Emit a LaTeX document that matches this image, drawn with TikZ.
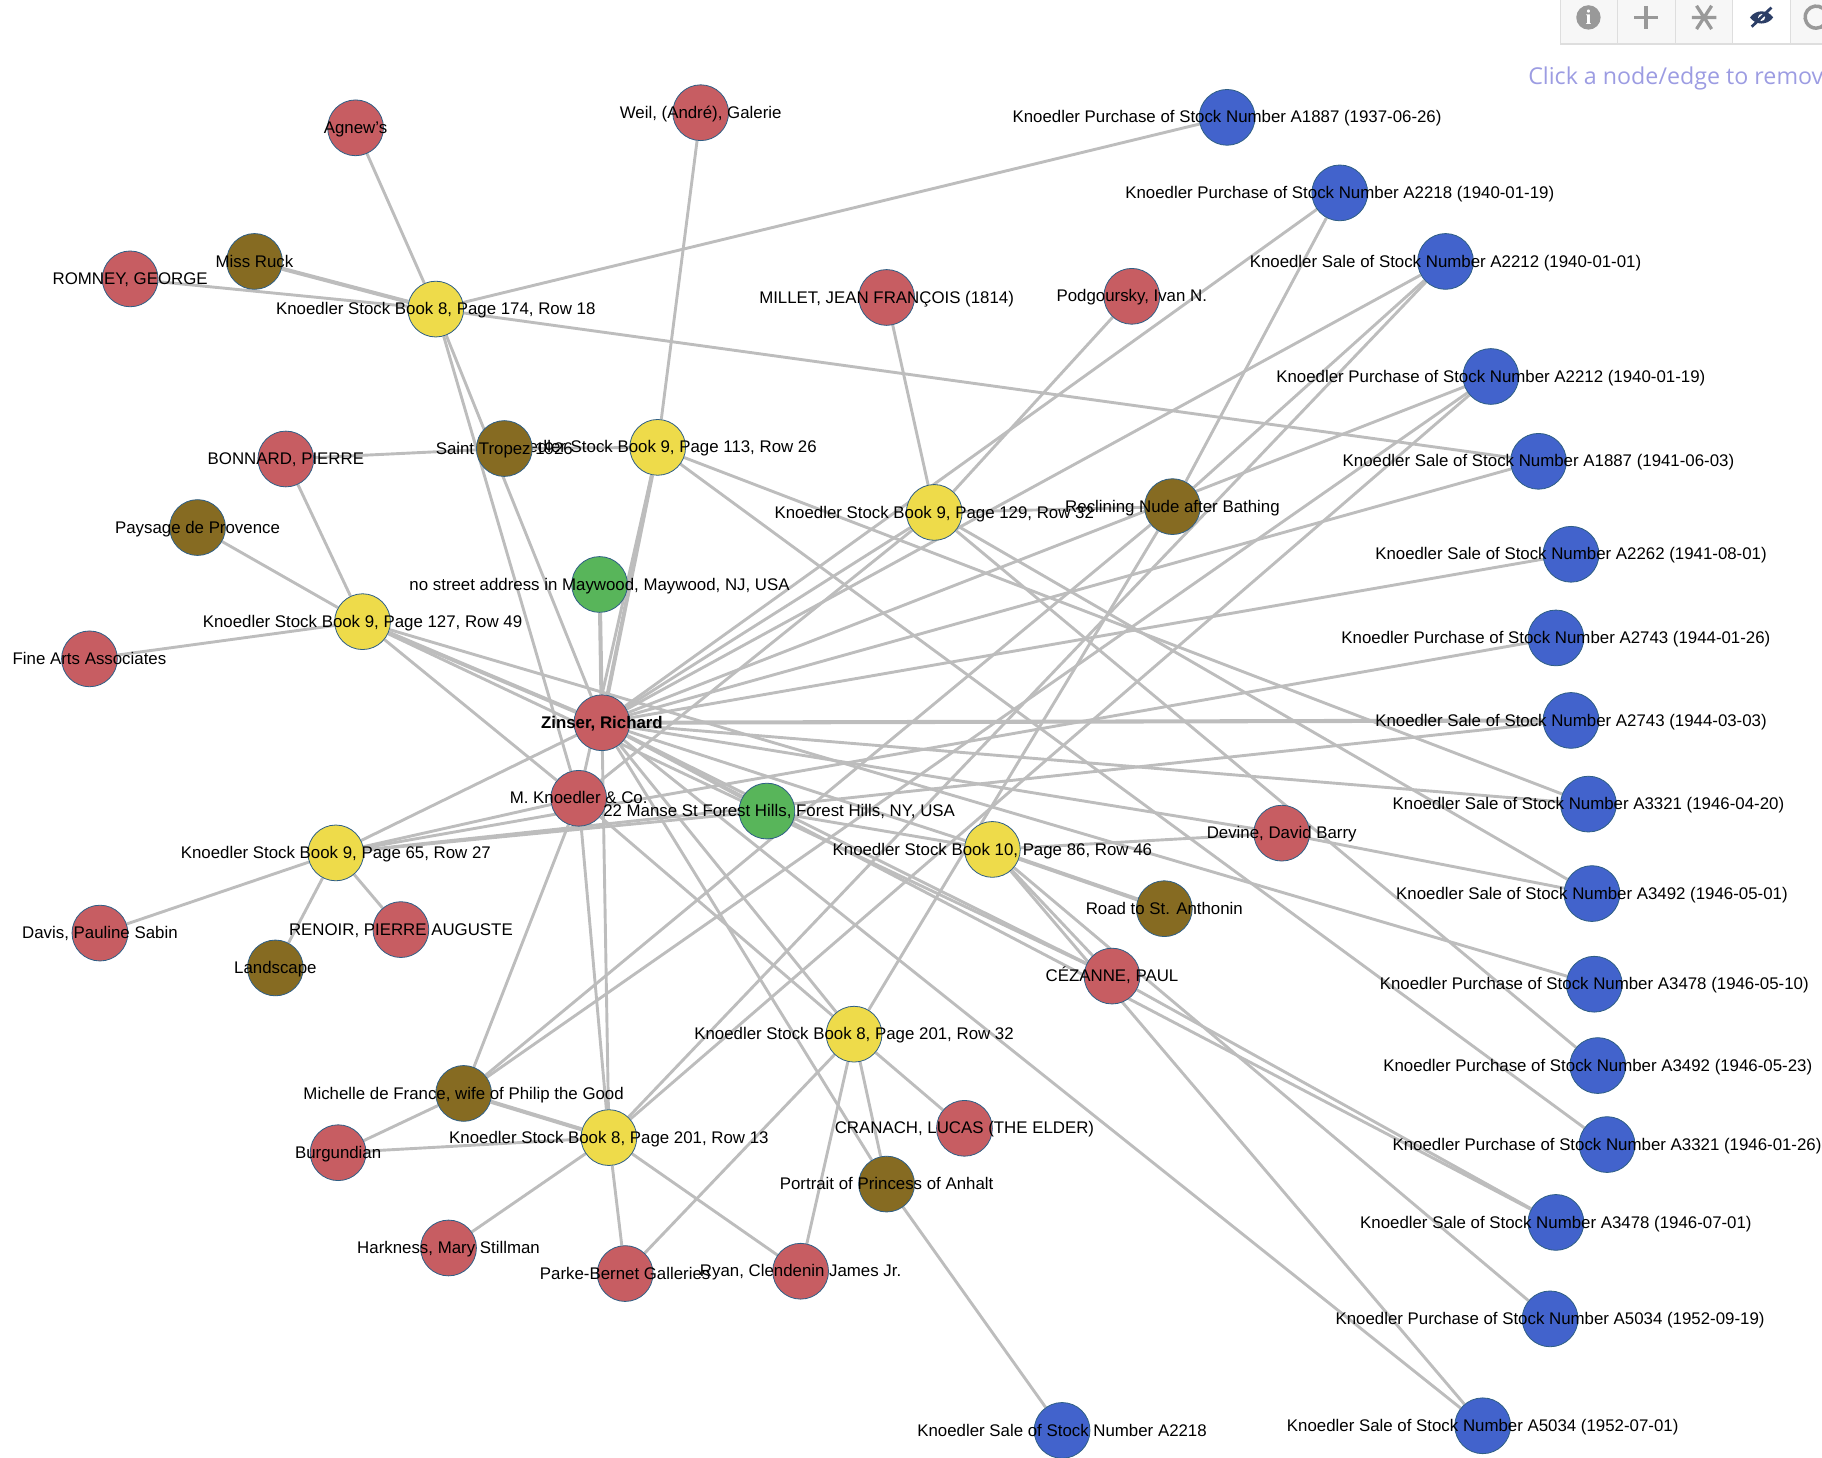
\documentclass[tikz,border=0pt]{standalone}
\usepackage{fontspec}
\setmainfont{Liberation Sans}
\newfontfamily\hintfont{Open Sans}
\newfontfamily\iconfont{Liberation Serif}
\usetikzlibrary{backgrounds}
\definecolor{edgegrey}{HTML}{BDBDBD}
\definecolor{rimblue}{HTML}{2F5F85}
\definecolor{personred}{HTML}{C75D62}
\definecolor{workbrown}{HTML}{866B22}
\definecolor{bookyellow}{HTML}{EEDB4A}
\definecolor{placegreen}{HTML}{58B55A}
\definecolor{salesblue}{HTML}{4263CC}
\definecolor{iconnavy}{HTML}{2C3E66}
\definecolor{hintblue}{HTML}{9C9CE2}
\tikzset{
  dot/.style={circle, draw=rimblue, line width=.7pt, minimum size=48pt, inner sep=0pt},
  lbl/.style={text=black, font=\fontsize{14.5}{16}\selectfont, inner sep=0pt, text height=10pt, text depth=3pt, yshift=-1.3pt},
  person/.style={dot, fill=personred, label={[lbl]center:#1}},
  work/.style={dot, fill=workbrown, label={[lbl]center:#1}},
  book/.style={dot, fill=bookyellow, label={[lbl]center:#1}},
  place/.style={dot, fill=placegreen, label={[lbl]center:#1}},
  sale/.style={dot, fill=salesblue, label={[lbl]center:#1}},
  edge/.style={draw=edgegrey, line width=2.5pt},
  heavy/.style={draw=edgegrey, line width=3.5pt},
  cell/.style={draw=black!13, line width=1.3pt, fill=black!3},
  icon/.style={draw=black!40, line width=2.8pt},
}
\begin{document}
\begin{tikzpicture}[x=1pt, y=-1pt]
\useasboundingbox (0,0) rectangle (1568,1254.7);
% stock books
\node[book={Knoedler Stock Book 8, Page 174, Row 18}] (bk0) at (375,266){};
\node[book={Knoedler Stock Book 9, Page 113, Row 26}] (bk1) at (566,385){};
\node[book={Knoedler Stock Book 9, Page 129, Row 32}] (bk2) at (804,441){};
\node[book={Knoedler Stock Book 9, Page 127, Row 49}] (bk3) at (312,535){};
\node[book={Knoedler Stock Book 9, Page 65, Row 27}] (bk4) at (289,734){};
\node[book={Knoedler Stock Book 10, Page 86, Row 46}] (bk5) at (854,731){};
\node[book={Knoedler Stock Book 8, Page 201, Row 32}] (bk6) at (735,890){};
\node[book={Knoedler Stock Book 8, Page 201, Row 13}] (bk7) at (524,979){};
% people
\node[person={Agnew's}] (pn0) at (306,110){};
\node[person={Weil, (André), Galerie}] (pn1) at (603,97){};
\node[person={ROMNEY, GEORGE}] (pn2) at (112,240){};
\node[person={MILLET, JEAN FRANÇOIS (1814)}] (pn3) at (763,256){};
\node[person={Podgoursky, Ivan N.}] (pn4) at (974,255){};
\node[person={BONNARD, PIERRE}] (pn5) at (246,395){};
\node[person={Fine Arts Associates}] (pn6) at (77,567){};
\node[person={\bfseries Zinser, Richard}] (pn7) at (518,622){};
\node[person={M. Knoedler \& Co.}] (pn8) at (498,687){};
\node[person={Devine, David Barry}] (pn9) at (1103,717){};
\node[person={Davis, Pauline Sabin}] (pn10) at (86,803){};
\node[person={RENOIR, PIERRE AUGUSTE}] (pn11) at (345,800){};
\node[person={CÉZANNE, PAUL}] (pn12) at (957,840){};
\node[person={CRANACH, LUCAS (THE ELDER)}] (pn13) at (830,971){};
\node[person={Burgundian}] (pn14) at (291,992){};
\node[person={Harkness, Mary Stillman}] (pn15) at (386,1074){};
\node[person={Parke-Bernet Galleries}] (pn16) at (538,1096){};
\node[person={Ryan, Clendenin James Jr.}] (pn17) at (689,1094){};
% works
\node[work={Miss Ruck}] (wk0) at (219,225){};
\node[work={Saint Tropez 1926}] (wk1) at (434,386){};
\node[work={Paysage de Provence}] (wk2) at (170,454){};
\node[work={Reclining Nude after Bathing}] (wk3) at (1009,436){};
\node[work={Road to St. Anthonin}] (wk4) at (1002,782){};
\node[work={Landscape}] (wk5) at (237,833){};
\node[work={Michelle de France, wife of Philip the Good}] (wk6) at (399,941){};
\node[work={Portrait of Princess of Anhalt}] (wk7) at (763,1019){};
% places
\node[place={no street address in Maywood, Maywood, NJ, USA}] (pl0) at (516,503){};
\node[dot, fill=placegreen, label={[lbl, xshift=10.5pt]center:22 Manse St Forest Hills, Forest Hills, NY, USA}] (pl1) at (660,698){};
% purchases and sales
\node[sale={Knoedler Purchase of Stock Number A1887 (1937-06-26)}] (tx0) at (1056,101){};
\node[sale={Knoedler Purchase of Stock Number A2218 (1940-01-19)}] (tx1) at (1153,166){};
\node[sale={Knoedler Sale of Stock Number A2212 (1940-01-01)}] (tx2) at (1244,225){};
\node[sale={Knoedler Purchase of Stock Number A2212 (1940-01-19)}] (tx3) at (1283,324){};
\node[sale={Knoedler Sale of Stock Number A1887 (1941-06-03)}] (tx4) at (1324,397){};
\node[sale={Knoedler Sale of Stock Number A2262 (1941-08-01)}] (tx5) at (1352,477){};
\node[sale={Knoedler Purchase of Stock Number A2743 (1944-01-26)}] (tx6) at (1339,549){};
\node[sale={Knoedler Sale of Stock Number A2743 (1944-03-03)}] (tx7) at (1352,620){};
\node[sale={Knoedler Sale of Stock Number A3321 (1946-04-20)}] (tx8) at (1367,692){};
\node[sale={Knoedler Sale of Stock Number A3492 (1946-05-01)}] (tx9) at (1370,769){};
\node[sale={Knoedler Purchase of Stock Number A3478 (1946-05-10)}] (tx10) at (1372,847){};
\node[sale={Knoedler Purchase of Stock Number A3492 (1946-05-23)}] (tx11) at (1375,917){};
\node[sale={Knoedler Purchase of Stock Number A3321 (1946-01-26)}] (tx12) at (1383,985){};
\node[sale={Knoedler Sale of Stock Number A3478 (1946-07-01)}] (tx13) at (1339,1052){};
\node[sale={Knoedler Purchase of Stock Number A5034 (1952-09-19)}] (tx14) at (1334,1135){};
\node[sale={Knoedler Sale of Stock Number A5034 (1952-07-01)}] (tx15) at (1276,1227){};
\node[sale={Knoedler Sale of Stock Number A2218}] (tx16) at (914,1231){};
\begin{scope}[on background layer]
% book 8 page 174
\draw[edge](bk0) -- (pn0);
\draw[edge](bk0) -- (pn2);
\draw[heavy](bk0) -- (wk0);
\draw[edge](bk0) -- (pn7);
\draw[edge](bk0) -- (pn8);
\draw[edge](bk0) -- (tx0);
\draw[edge](bk0) -- (tx4);
% book 9 page 113
\draw[edge](bk1) -- (pn1);
\draw[edge](bk1) -- (wk1);
\draw[heavy](bk1) -- (pn7);
\draw[edge](bk1) -- (pn8);
\draw[edge](bk1) -- (tx8);
\draw[edge](bk1) -- (tx12);
\draw[edge](wk1) -- (pn5);
% book 9 page 129
\draw[edge](bk2) -- (pn3);
\draw[edge](bk2) -- (pn4);
\draw[edge](bk2) -- (wk3);
\draw[edge](bk2) -- (pn7);
\draw[edge](bk2) -- (pn8);
\draw[edge](bk2) -- (tx9);
\draw[edge](bk2) -- (tx11);
% book 9 page 127
\draw[edge](bk3) -- (pn5);
\draw[edge](bk3) -- (wk2);
\draw[edge](bk3) -- (pn6);
\draw[heavy](bk3) -- (pn7);
\draw[edge](bk3) -- (pn8);
\draw[edge](bk3) -- (pn12);
\draw[edge](bk3) -- (tx10);
% book 9 page 65
\draw[edge](bk4) -- (pn10);
\draw[edge](bk4) -- (pn11);
\draw[edge](bk4) -- (wk5);
\draw[edge](bk4) -- (pn7);
\draw[edge](bk4) -- (pn8);
\draw[edge](bk4) -- (pl1);
\draw[edge](bk4) -- (tx6);
\draw[edge](bk4) -- (tx7);
% book 10 page 86
\draw[edge](bk5) -- (pn7);
\draw[edge](bk5) -- (pl1);
\draw[edge](bk5) -- (pn9);
\draw[heavy](bk5) -- (wk4);
\draw[edge](bk5) -- (pn12);
\draw[edge](bk5) -- (tx14);
\draw[edge](bk5) -- (tx15);
% book 8 page 201 row 32
\draw[edge](bk6) -- (pn7);
\draw[edge](bk6) -- (pn8);
\draw[edge](bk6) -- (wk3);
\draw[edge](bk6) -- (pn13);
\draw[edge](bk6) -- (wk7);
\draw[edge](bk6) -- (pn17);
\draw[edge](bk6) -- (pn16);
% book 8 page 201 row 13
\draw[edge](bk7) -- (pn7);
\draw[edge](bk7) -- (pn8);
\draw[heavy](bk7) -- (wk6);
\draw[edge](bk7) -- (pn14);
\draw[edge](bk7) -- (pn15);
\draw[edge](bk7) -- (pn16);
\draw[edge](bk7) -- (pn17);
\draw[edge](bk7) -- (tx2);
\draw[edge](bk7) -- (tx3);
% the rest
\draw[edge](wk6) -- (pn8);
\draw[edge](wk6) -- (pn14);
\draw[edge](wk6) -- (wk3);
\draw[edge](wk6) -- (tx3);
\draw[edge](wk7) -- (pn7);
\draw[edge](wk7) -- (tx16);
\draw[edge](wk3) -- (tx1);
\draw[edge](wk3) -- (tx2);
\draw[heavy](pl0) -- (pn7);
\draw[edge](pn7) -- (pl1);
\draw[edge](pn7) -- (pn9);
\draw[edge](pn7) -- (pn12);
\draw[edge](pn7) -- (tx1);
\draw[edge](pn7) -- (tx2);
\draw[edge](pn7) -- (tx3);
\draw[edge](pn7) -- (tx4);
\draw[edge](pn7) -- (tx5);
\draw[heavy](pn7) -- (tx7);
\draw[edge](pn7) -- (tx8);
\draw[edge](pn7) -- (tx13);
\draw[edge](pn7) -- (tx15);
\draw[edge](pn9) -- (tx9);
\draw[edge](pn12) -- (tx13);
\end{scope}
% toolbar
\path[cell] (1343,-5) rectangle (1392,38);
\path[cell] (1392,-5) rectangle (1442,38);
\path[cell] (1442,-5) rectangle (1491,38);
\path[cell, fill=white] (1491,-5) rectangle (1541,38);
\path[cell] (1541,-5) rectangle (1580,38);
\node[circle, fill=black!40, minimum size=21pt, inner sep=0pt, text=white, font=\iconfont\bfseries\fontsize{18}{18}\selectfont] (infoicon) at (1367,15){i};
\draw[icon] (1406.5,15) -- (1426.5,15) (1416.5,5) -- (1416.5,25);
\draw[icon] (1456,15) -- (1477,15) (1460,5) -- (1473,25) (1473,5) -- (1460,25);
\path[fill=iconnavy] (1506,15) .. controls (1511,8) and (1521,8) .. (1526,15) .. controls (1521,22) and (1511,22) .. (1506,15) -- cycle;
\path[fill=white] (1516,15) circle (3);
\draw[iconnavy, line width=2.4pt] (1507.5,23) -- (1524.5,6.5);
\draw[icon, line width=3pt] (1571.2,10) arc (-30:-320:9.5);
\node[anchor=base west, text=hintblue, font=\hintfont\fontsize{20}{24}\selectfont, inner sep=0pt] (hinttext) at (1315,72.5){Click a node/edge to remov};
\end{tikzpicture}
\end{document}
